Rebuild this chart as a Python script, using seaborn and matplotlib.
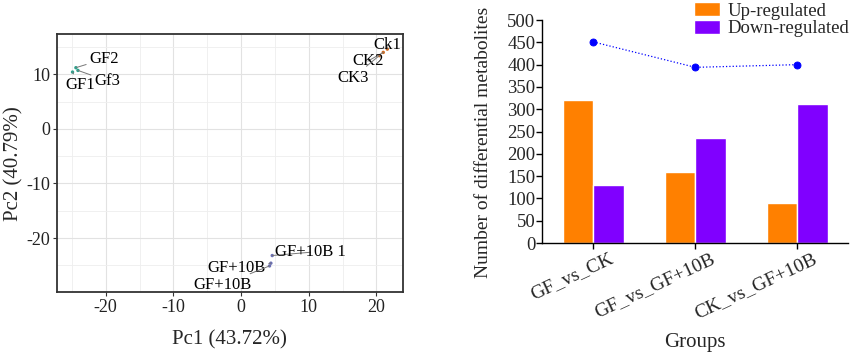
import numpy as np
import pandas as pd
import matplotlib
matplotlib.use("Agg")
import matplotlib.pyplot as plt
import matplotlib.transforms as mtransforms
from matplotlib.ticker import MultipleLocator
import seaborn as sns

# PCA scores
samples = ["GF1", "GF2", "Gf3", "Ck1", "CK2", "CK3", "GF+10B 1", "GF+10B", "GF+10B"]
sample_group = ["GF", "GF", "GF", "CK", "CK", "CK", "GF+10B", "GF+10B", "GF+10B"]
pc1 = [-24.9, -24.4, -24.1, 21.6, 21.0, 20.4, 4.6, 4.4, 4.2]
pc2 = [10.4, 11.2, 10.7, 14.6, 14.0, 13.4, -23.2, -24.6, -25.1]
label_x = [-26.0, -22.4, -21.7, 19.5, 16.4, 14.2, 5.0, -5.0, -7.1]
label_y = [8.0, 12.8, 8.8, 15.3, 12.4, 9.4, -22.6, -25.5, -28.6]
group_colors = {"GF": "#2ba58f", "CK": "#d2691e", "GF+10B": "#6a6fb5"}

# differential metabolites
comparisons = ["GF_vs_CK", "GF_vs_GF+10B", "CK_vs_GF+10B"]
up_regulated = [320, 159, 89]
down_regulated = [131, 235, 311]

sns.set_theme(style="white")
plt.rcParams["font.family"] = ["Liberation Serif", "DejaVu Serif"]
plt.rcParams["axes.unicode_minus"] = False

fig = plt.figure(figsize=(8.5, 3.58), dpi=100)

# ---------------- PCA panel ----------------
ax1 = fig.add_axes([0.067, 0.184, 0.407, 0.72])
pca = pd.DataFrame({"pc1": pc1, "pc2": pc2, "group": sample_group})
sns.scatterplot(data=pca, x="pc1", y="pc2", hue="group", palette=group_colors,
                s=6, linewidth=0, legend=False, ax=ax1, zorder=3)
for name, x, y, lx, ly in zip(samples, pc1, pc2, label_x, label_y):
    ax1.annotate(name, xy=(x, y), xytext=(lx, ly), fontsize=12, color="black",
                 ha="left", va="center",
                 arrowprops=dict(arrowstyle="-", color="#777777", lw=0.7,
                                 shrinkA=0, shrinkB=0))
ax1.set_xlim(-27.2, 23.9)
ax1.set_ylim(-29.9, 17.3)
ax1.xaxis.set_major_locator(MultipleLocator(10))
ax1.yaxis.set_major_locator(MultipleLocator(10))
ax1.xaxis.set_minor_locator(MultipleLocator(5))
ax1.yaxis.set_minor_locator(MultipleLocator(5))
ax1.grid(which="major", color="#e2e2e2", lw=0.8)
ax1.grid(which="minor", color="#eeeeee", lw=0.6)
ax1.set_axisbelow(True)
for sp in ax1.spines.values():
    sp.set_color("#333333")
    sp.set_linewidth(1.3)
ax1.tick_params(which="major", length=3, width=0.8, color="#333333", pad=2,
                labelsize=13, labelcolor="#222222", bottom=True, left=True)
ax1.tick_params(which="minor", length=0)
ax1.set_xlabel("Pc1 (43.72%)", fontsize=15, labelpad=10)
ax1.set_ylabel("Pc2 (40.79%)", fontsize=15, labelpad=2)

# ---------------- bar panel ----------------
ax2 = fig.add_axes([0.638, 0.321, 0.36, 0.623])
bars = pd.DataFrame({
    "group": comparisons * 2,
    "count": up_regulated + down_regulated,
    "type": ["Up-regulated"] * 3 + ["Down-regulated"] * 3,
})
sns.barplot(data=bars, x="group", y="count", hue="type",
            palette={"Up-regulated": "#ff8000", "Down-regulated": "#8000ff"},
            width=0.6, saturation=1, ax=ax2, zorder=2)
totals = pd.DataFrame({"group": comparisons,
                       "total": np.add(up_regulated, down_regulated)})
sns.pointplot(data=totals, x="group", y="total", color="#0000ff",
              linestyles=":", markers="o", markersize=5, linewidth=0.9,
              ax=ax2, zorder=3)
ax2.set_xlim(-0.5, 2.5)
ax2.set_ylim(0, 500)
ax2.yaxis.set_major_locator(MultipleLocator(50))
sns.despine(ax=ax2)
for sp in ["left", "bottom"]:
    ax2.spines[sp].set_color("black")
    ax2.spines[sp].set_linewidth(1.0)
ax2.tick_params(axis="both", length=4, width=1.0, color="black",
                labelsize=13.5, bottom=True, left=True, pad=1)
ax2.set_xticks(range(len(comparisons)))
ax2.set_xticklabels(comparisons, rotation=25, ha="right",
                    rotation_mode="anchor", fontsize=14)
offset = mtransforms.ScaledTranslation(0.15, 0, fig.dpi_scale_trans)
for lbl in ax2.get_xticklabels():
    lbl.set_transform(lbl.get_transform() + offset)
ax2.set_xlabel("Groups", fontsize=15, labelpad=8)
ax2.set_ylabel("Number of differential metabolites", fontsize=14, labelpad=2)
ax2.yaxis.set_label_coords(-0.165, 0.45)
ax2.legend(loc="upper left", bbox_to_anchor=(0.47, 1.115), frameon=False,
           fontsize=13.5, handlelength=1.4, handleheight=0.8, labelspacing=0.0,
           handletextpad=0.4, borderaxespad=0)

fig.savefig("out.png", dpi=100)
